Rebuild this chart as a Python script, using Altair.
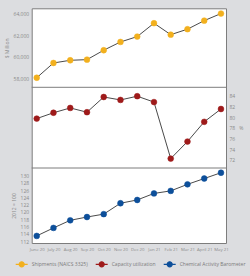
import altair as alt
import pandas as pd
import math

months = ["June 20", "July 20", "Aug 20", "Sep 20", "Oct 20", "Nov 20",
          "Dec 20", "Jan 21", "Feb 21", "Mar 21", "April 21", "May 21"]
shipments = [58050, 59430, 59680, 59740, 60620, 61390, 61890, 63140, 62070, 62580, 63380, 64040]
capacity = [79.7, 80.8, 81.7, 80.9, 83.75, 83.2, 83.9, 82.8, 72.2, 75.4, 79.1, 81.5]
cab = [113.4, 115.6, 117.7, 118.6, 119.4, 122.4, 123.3, 125.1, 125.8, 127.6, 129.2, 130.8]
series = ["Shipments (NAICS 3325)", "Capacity utilization", "Chemical Activity Barometer"]
colors = ["#f2b01e", "#9e1a1a", "#0d4f9a"]

rows = []
for name, vals in zip(series, [shipments, capacity, cab]):
    for m, v in zip(months, vals):
        rows.append({"month": m, "value": v, "series": name})
df = pd.DataFrame(rows)

LABEL = "#8a8a8a"
FRAME = "#7d7d7d"
W, H = 194.3, 234.7

r = 0.42
poly = "".join(
    ("M" if i == 0 else "L") + f"{r*math.cos(2*math.pi*i/16):.3f},{r*math.sin(2*math.pi*i/16):.3f}"
    for i in range(16)
)
sym = "M-1,0L1,0" + poly + "Z"
legend = alt.Legend(
    orient="none", legendX=-17, legendY=249, direction="horizontal", title=None,
    symbolType=sym, symbolSize=144, symbolStrokeWidth=1.2,
    labelFontSize=5, labelColor="#7a7a7a", labelFont="Open Sans",
    columnPadding=5, symbolOffset=0, labelOffset=3, labelLimit=0,
)
cscale = alt.Scale(domain=series, range=colors)
xaxis = alt.Axis(title=None, labelAngle=0, labelFontSize=4.3, labelColor=LABEL,
                 labelFont="Open Sans", ticks=False, domain=False, labelPadding=4, grid=False,
                 labelOverlap=False)
x = alt.X("month:O", sort=months, scale=alt.Scale(type="point", padding=0.3), axis=xaxis)


def panel(name, domain, rng, ticks, title, orient, fmt, divider=True):
    base = alt.Chart(df).transform_filter(alt.datum.series == name)
    extra = {"titleAngle": 0, "titleBaseline": "middle", "titleAlign": "left"} if orient == "right" else {}
    y = alt.Y("value:Q", scale=alt.Scale(domain=domain, range=rng, nice=False, zero=False),
              axis=alt.Axis(values=ticks, orient=orient, title=title, format=fmt, grid=False,
                            ticks=False, domain=False, labelFontSize=5, labelColor=LABEL,
                            labelFont="Open Sans", titleFontSize=5, titleColor=LABEL,
                            titleFont="Open Sans", titleFontWeight="normal", labelPadding=3,
                            titlePadding=4, labelOverlap=False, labelFlush=False, **extra))
    line = base.mark_line(color="#4a4a4a", strokeWidth=1).encode(x=x, y=y)
    pts = base.mark_point(filled=True, size=34, opacity=1, strokeWidth=0.5).encode(
        x=x, y=y,
        color=alt.Color("series:N", scale=cscale, legend=legend),
        stroke=alt.Stroke("series:N", scale=cscale, legend=legend),
    )
    layers = [line, pts]
    if divider:
        edge = alt.Chart(pd.DataFrame({"value": [domain[0]]})).mark_rule(
            color=FRAME, strokeWidth=1).encode(y=y)
        layers.insert(0, edge)
    return alt.layer(*layers)


p1 = panel(series[0], [57160, 64530], [79, 0], [58000, 60000, 62000, 64000], "$ Million", "left", ",.0f")
p2 = panel(series[1], [70.44, 85.57], [159.7, 79], [72, 74, 76, 78, 80, 82, 84], "%", "right", "d")
p3 = panel(series[2], [111.45, 132.1], [H, 159.7], list(range(112, 131, 2)), "2012 = 100", "left", "d",
           divider=False)

chart = alt.layer(p1, p2, p3).resolve_scale(y="independent").properties(
    width=W, height=H,
    background="#dcdde0",
    padding={"left": 31.7, "top": 8.3, "right": 24, "bottom": 33},
    autosize=alt.AutoSizeParams(type="none"),
).configure_view(fill="white", stroke=FRAME, strokeWidth=1).configure_axis(labelOverlap=False)

chart.save("out.html", embed_options={"renderer": "svg", "actions": False})
